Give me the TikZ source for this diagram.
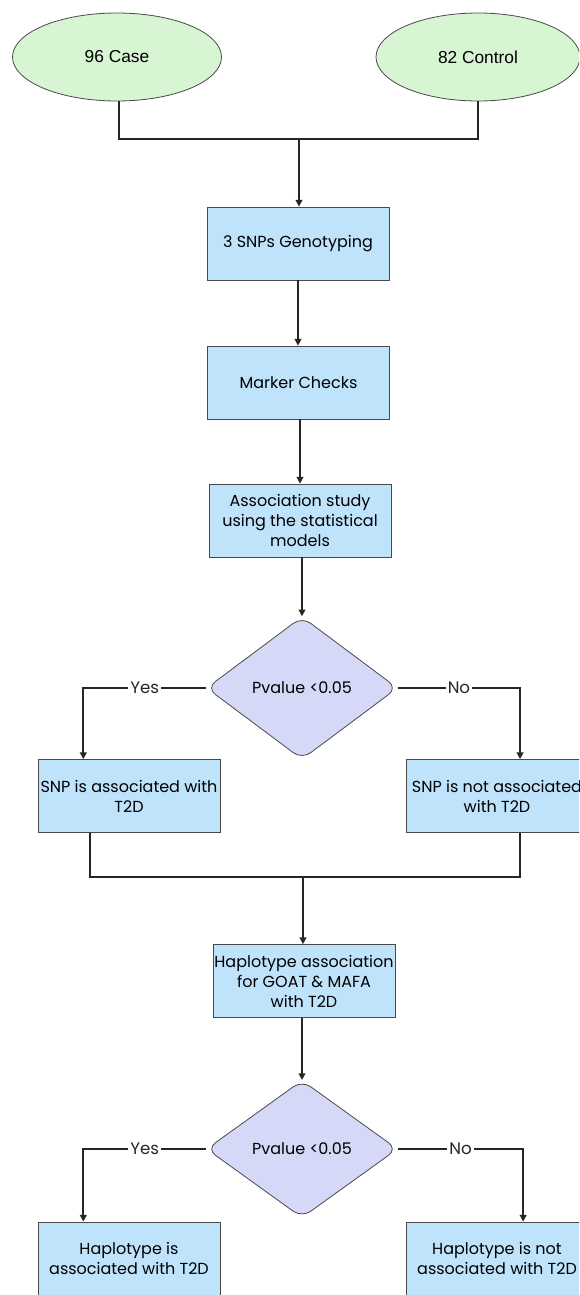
\documentclass[tikz,border=0pt]{standalone}
\usepackage{fontspec}
\setmainfont{Poppins}
\newfontfamily\ellfont{Liberation Sans}
\usetikzlibrary{shapes.geometric,arrows.meta,calc}
\definecolor{ellfill}{HTML}{D8F5D3}
\definecolor{boxfill}{HTML}{BFE3FB}
\definecolor{diafill}{HTML}{D6D8F7}
\definecolor{edge}{HTML}{4A4A4A}
\tikzset{
  ell/.style={ellipse,draw=edge,line width=0.6pt,fill=ellfill,minimum width=156.75pt,minimum height=66pt,inner sep=0pt,font=\ellfont\fontsize{13}{15}\selectfont},
  box/.style={rectangle,draw=edge,line width=0.6pt,fill=boxfill,minimum width=136.5pt,minimum height=54.75pt,inner sep=0pt,align=center,font=\fontsize{12}{15}\selectfont},
  dia/.style={diamond,draw=edge,line width=0.6pt,fill=diafill,aspect=1.34,minimum width=143.25pt,minimum height=107pt,inner sep=0pt,rounded corners=8pt,font=\fontsize{12}{14}\selectfont},
  conn/.style={line width=1.3pt,black!85},
  arr/.style={conn,-{Triangle[length=5pt,width=5pt]}},
  lab/.style={fill=white,inner sep=1.5pt,font=\fontsize{12.5}{14}\selectfont}
}
\begin{document}
\begin{tikzpicture}[x=0.75pt,y=-0.75pt]
\useasboundingbox (0,0) rectangle (579,1295);
\clip (0,0) rectangle (579,1295);
\node[ell] (e1) at (117,57) {96 Case};
\node[ell,minimum width=153pt] (e2) at (478,57) {82 Control};
\node[box] (b1) at (298,243.5) {3 SNPs Genotyping};
\node[box] (b2) at (298.5,382.5) {Marker Checks};
\node[box] (b3) at (300,520.5) {Association study\\using the statistical\\models};
\node[dia] (d1) at (302,688) {Pvalue <0.05};
\node[box] (l1) at (129,796) {SNP is associated with\\T2D};
\node[box] (r1) at (497,796) {SNP is not associated\\with T2D};
\node[box] (h) at (304,981) {Haplotype association\\for GOAT \& MAFA\\with T2D};
\node[dia,minimum height=103pt] (d2) at (302,1149) {Pvalue <0.05};
\node[box] (l2) at (129,1258.5) {Haplotype is\\associated with T2D};
\node[box] (r2) at (497,1258.5) {Haplotype is not\\associated with T2D};
\coordinate (j1) at (299,139);
\coordinate (j2) at (303,877);
\coordinate (s1) at ($(e1.south)+(2,0)$);
\coordinate (p2) at ($(b2.south)+(1.5,0)$);
\coordinate (p3) at ($(b3.south)+(2,0)$);
\coordinate (ph) at ($(h.south)+(-2,0)$);
\coordinate (yl1) at ($(l1.north west)!0.25!(l1.north east)$);
\coordinate (nr1) at ($(r1.north west)!0.626!(r1.north east)$);
\coordinate (ml1) at ($(l1.south west)!0.286!(l1.south east)$);
\coordinate (mr1) at ($(r1.south west)!0.626!(r1.south east)$);
\coordinate (yl2) at ($(l2.north west)!0.25!(l2.north east)$);
\coordinate (nr2) at ($(r2.north west)!0.643!(r2.north east)$);
% top merge
\draw[conn] (s1) |- (j1) -| (e2.south);
\draw[arr] (j1) -- (j1 |- b1.north);
\draw[arr] (b1.south) -- (b1.south |- b2.north);
\draw[arr] (p2) -- (p2 |- b3.north);
\draw[arr] (p3) -- (p3 |- d1.north);
% first decision
\draw[arr] (d1.west) -| node[lab,pos=0.25]{Yes} (yl1);
\draw[arr] (d1.east) -| node[lab,pos=0.25]{No} (nr1);
% second merge
\draw[conn] (ml1) |- (j2) -| (mr1);
\draw[arr] (j2) -- (j2 |- h.north);
\draw[arr] (ph) -- (ph |- d2.north);
% second decision
\draw[arr] (d2.west) -| node[lab,pos=0.25]{Yes} (yl2);
\draw[arr] (d2.east) -| node[lab,pos=0.25]{No} (nr2);
\end{tikzpicture}
\end{document}
